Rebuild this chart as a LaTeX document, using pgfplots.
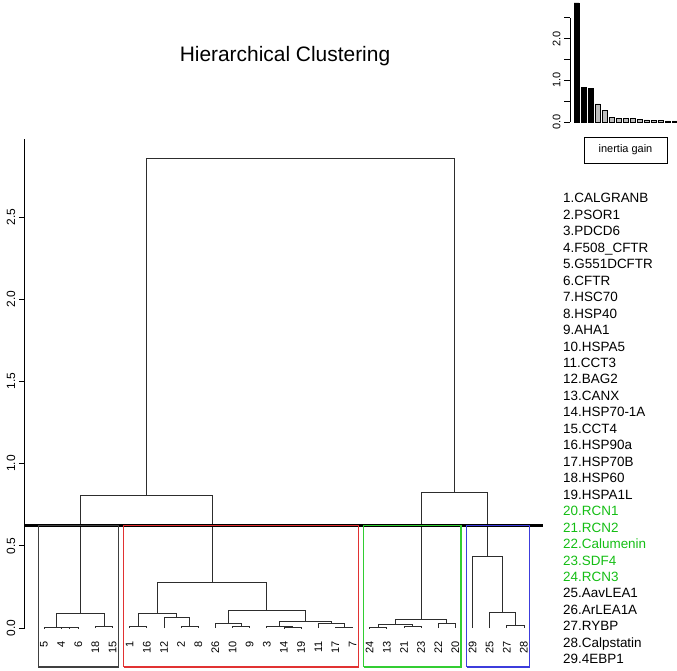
\documentclass[border=0pt]{standalone}
\usepackage{fontspec}
\setmainfont{Liberation Sans}
\usepackage{pgfplots}
\pgfplotsset{compat=1.18}
\definecolor{boxred}{RGB}{225,50,50}
\definecolor{boxgreen}{RGB}{50,205,50}
\definecolor{boxblue}{RGB}{60,60,220}
\definecolor{legreen}{RGB}{20,190,20}
\definecolor{rgrey}{RGB}{190,190,190}
\definecolor{dend}{RGB}{45,45,45}
\pgfplotsset{dg/.style={dend, line width=0.75bp, line join=miter}}
\begin{document}
\begin{tikzpicture}
\useasboundingbox (0,0) rectangle (677bp,671bp);
\begin{axis}[
  at={(24.8bp,4bp)}, anchor=south west,
  scale only axis, width=518.3bp, height=527.5bp,
  xmin=-0.12, xmax=30.12, ymin=-0.237, ymax=2.97,
  axis line style={draw=none},
  clip=false,
  xtick={1,...,29},
  xticklabels={5,4,6,18,15,1,16,12,2,8,26,10,9,3,14,19,11,17,7,24,13,21,23,22,20,29,25,27,28},
  xticklabel style={rotate=90, anchor=east, font=\fontsize{11}{13}\selectfont, inner sep=1pt},
  xticklabel shift=-33bp,
  major x tick style={draw=none},
  ytick={0,0.5,1,1.5,2,2.5},
  yticklabels={0.0,0.5,1.0,1.5,2.0,2.5},
  ytick pos=left, tick align=outside, major tick length=6bp,
  yticklabel style={rotate=90, anchor=south, font=\fontsize{12}{14}\selectfont},
  major y tick style={black, line width=0.6bp},
  title={Hierarchical Clustering},
  title style={at={(0.502,1.147)}, anchor=center, yshift=0pt, font=\fontsize{21}{25}\selectfont},
]
% cluster 1
\addplot[dg] coordinates {(2,0)(2,0.001)(3,0.001)(3,0)};
\addplot[dg] coordinates {(1,0)(1,0.003)(2.5,0.003)(2.5,0.001)};
\addplot[dg] coordinates {(4,0)(4,0.012)(5,0.012)(5,0)};
\addplot[dg] coordinates {(1.75,0.003)(1.75,0.09)(4.5,0.09)(4.5,0.012)};
% cluster 2
\addplot[dg] coordinates {(6,0)(6,0.012)(7,0.012)(7,0)};
\addplot[dg] coordinates {(9,0)(9,0.01)(10,0.01)(10,0)};
\addplot[dg] coordinates {(8,0)(8,0.067)(9.5,0.067)(9.5,0.01)};
\addplot[dg] coordinates {(6.5,0.012)(6.5,0.09)(8.75,0.09)(8.75,0.067)};
\addplot[dg] coordinates {(12,0)(12,0.01)(13,0.01)(13,0)};
\addplot[dg] coordinates {(11,0)(11,0.026)(12.5,0.026)(12.5,0.01)};
\addplot[dg] coordinates {(15,0)(15,0.003)(16,0.003)(16,0)};
\addplot[dg] coordinates {(14,0)(14,0.01)(15.5,0.01)(15.5,0.003)};
\addplot[dg] coordinates {(18,0)(18,0.004)(19,0.004)(19,0)};
\addplot[dg] coordinates {(17,0)(17,0.03)(18.5,0.03)(18.5,0.004)};
\addplot[dg] coordinates {(14.75,0.01)(14.75,0.042)(17.75,0.042)(17.75,0.03)};
\addplot[dg] coordinates {(11.75,0.026)(11.75,0.107)(16.25,0.107)(16.25,0.042)};
\addplot[dg] coordinates {(7.625,0.09)(7.625,0.275)(14,0.275)(14,0.107)};
\addplot[dg] coordinates {(3.125,0.09)(3.125,0.808)(10.8125,0.808)(10.8125,0.275)};
% cluster 3
\addplot[dg] coordinates {(20,0)(20,0.002)(21,0.002)(21,0)};
\addplot[dg] coordinates {(22,0)(22,0.012)(23,0.012)(23,0)};
\addplot[dg] coordinates {(20.5,0.002)(20.5,0.024)(22.5,0.024)(22.5,0.012)};
\addplot[dg] coordinates {(24,0)(24,0.028)(25,0.028)(25,0)};
\addplot[dg] coordinates {(21.5,0.024)(21.5,0.053)(24.5,0.053)(24.5,0.028)};
% cluster 4
\addplot[dg] coordinates {(28,0)(28,0.014)(29,0.014)(29,0)};
\addplot[dg] coordinates {(27,0)(27,0.095)(28.5,0.095)(28.5,0.014)};
\addplot[dg] coordinates {(26,0)(26,0.437)(27.75,0.437)(27.75,0.095)};
% upper merges
\addplot[dg] coordinates {(23,0.053)(23,0.824)(26.875,0.824)(26.875,0.437)};
\addplot[dg] coordinates {(6.96875,0.808)(6.96875,2.857)(24.9375,2.857)(24.9375,0.824)};
% y axis line
\addplot[black, line width=0.6bp] coordinates {(-0.12,0)(-0.12,2.97)};
% cut line
\addplot[black, line width=2.6bp] coordinates {(-0.12,0.625)(30.12,0.625)};
% cluster boxes
\addplot[black!75, line width=1.1bp, line join=miter] coordinates {(0.66,-0.237)(0.66,0.625)(5.33,0.625)(5.33,-0.237)(0.66,-0.237)};
\addplot[boxred, line width=1.1bp, line join=miter] coordinates {(5.66,-0.237)(5.66,0.625)(19.33,0.625)(19.33,-0.237)(5.66,-0.237)};
\addplot[boxgreen, line width=1.1bp, line join=miter] coordinates {(19.66,-0.237)(19.66,0.625)(25.33,0.625)(25.33,-0.237)(19.66,-0.237)};
\addplot[boxblue, line width=1.1bp, line join=miter] coordinates {(25.66,-0.237)(25.66,0.625)(29.33,0.625)(29.33,-0.237)(25.66,-0.237)};
\end{axis}

% inertia gain inset
\begin{axis}[
  at={(570bp,549bp)}, anchor=south west,
  scale only axis, width=107bp, height=120.9bp,
  xmin=0.07, xmax=15.36, ymin=0, ymax=2.9,
  axis line style={draw=none},
  clip=false,
  xtick=\empty,
  ytick={0,0.5,1,1.5,2,2.5},
  yticklabels={0.0,,1.0,,2.0,},
  ytick pos=left, tick align=outside, major tick length=6bp,
  yticklabel style={rotate=90, anchor=south, font=\fontsize{11}{13}\selectfont},
  major y tick style={black, line width=0.6bp},
]
\addplot[ybar, bar width=4.6bp, bar shift=0pt, fill=black, draw=black, line width=0.5bp] coordinates {(1,2.857)(2,0.824)(3,0.808)};
\addplot[ybar, bar width=4.6bp, bar shift=0pt, fill=rgrey, draw=black, line width=0.5bp] coordinates {(4,0.437)(5,0.275)(6,0.107)(7,0.095)(8,0.09)(9,0.09)(10,0.067)(11,0.053)(12,0.042)(13,0.03)(14,0.028)(15,0.026)};
\addplot[black, line width=0.6bp] coordinates {(0.07,0)(0.07,2.5)};
\end{axis}

\node[draw, line width=0.6bp, minimum width=83bp, minimum height=26bp, font=\fontsize{11}{13}\selectfont, inner sep=0pt] at (625.5bp,521bp) {inertia gain};

\foreach \lab/\col [count=\i] in {1.CALGRANB/black, 2.PSOR1/black, 3.PDCD6/black, 4.F508\_CFTR/black, 5.G551DCFTR/black, 6.CFTR/black, 7.HSC70/black, 8.HSP40/black, 9.AHA1/black, 10.HSPA5/black, 11.CCT3/black, 12.BAG2/black, 13.CANX/black, 14.HSP70-1A/black, 15.CCT4/black, 16.HSP90a/black, 17.HSP70B/black, 18.HSP60/black, 19.HSPA1L/black, 20.RCN1/legreen, 21.RCN2/legreen, 22.Calumenin/legreen, 23.SDF4/legreen, 24.RCN3/legreen, 25.AavLEA1/black, 26.ArLEA1A/black, 27.RYBP/black, 28.Calpstatin/black, 29.4EBP1/black} {
  \pgfmathsetmacro\yy{468.1-(\i-1)*16.46}
  \node[anchor=base west, inner sep=0pt, text=\col, font=\fontsize{13.5}{16}\selectfont] at (563bp,\yy bp) {\lab};
}
\end{tikzpicture}
\end{document}
